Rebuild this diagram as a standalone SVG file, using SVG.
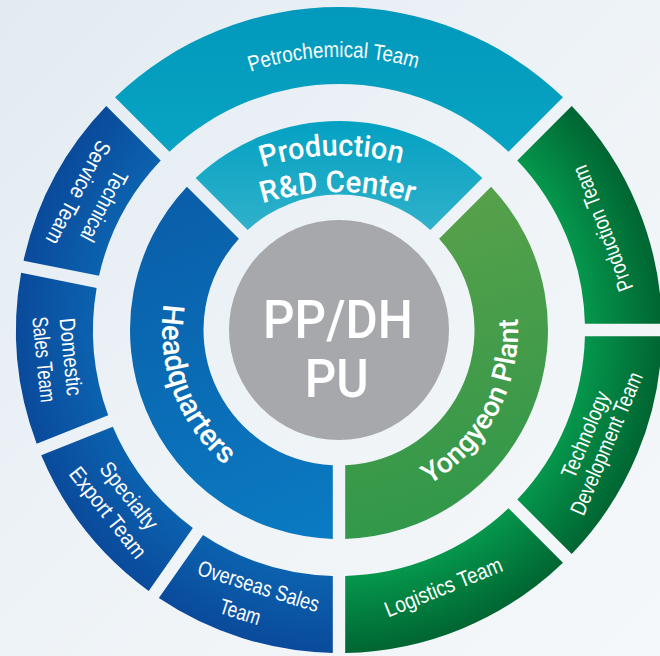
<svg xmlns="http://www.w3.org/2000/svg" width="660" height="656" viewBox="0 0 660 656">
<defs>
  <linearGradient id="bg" gradientUnits="userSpaceOnUse" x1="0" y1="0" x2="660" y2="656">
    <stop offset="0" stop-color="#e2ebf2"/>
    <stop offset="0.5" stop-color="#eef3f7"/>
    <stop offset="1" stop-color="#f5f8fa"/>
  </linearGradient>
  <linearGradient id="gPetro" gradientUnits="userSpaceOnUse" x1="0" y1="7" x2="0" y2="152">
    <stop offset="0" stop-color="#0299bc"/>
    <stop offset="1" stop-color="#08a3c2"/>
  </linearGradient>
  <linearGradient id="gRD" gradientUnits="userSpaceOnUse" x1="0" y1="121" x2="0" y2="230">
    <stop offset="0" stop-color="#03a1c2"/>
    <stop offset="1" stop-color="#30b1ca"/>
  </linearGradient>
  <linearGradient id="gHQ" gradientUnits="userSpaceOnUse" x1="180" y1="190" x2="330" y2="540">
    <stop offset="0" stop-color="#0a5ea9"/>
    <stop offset="1" stop-color="#0a7bc3"/>
  </linearGradient>
  <linearGradient id="gYY" gradientUnits="userSpaceOnUse" x1="420" y1="200" x2="520" y2="520">
    <stop offset="0" stop-color="#58a14a"/>
    <stop offset="1" stop-color="#2f974a"/>
  </linearGradient>
  <radialGradient id="gBlue" gradientUnits="userSpaceOnUse" cx="339" cy="330" r="323">
    <stop offset="0.76" stop-color="#0b62af"/>
    <stop offset="1" stop-color="#0a4a9b"/>
  </radialGradient>
  <radialGradient id="gGreen" gradientUnits="userSpaceOnUse" cx="339" cy="330" r="323">
    <stop offset="0.76" stop-color="#05974c"/>
    <stop offset="1" stop-color="#006532"/>
  </radialGradient>
  <path id="pPetro" d="M145.96,136.96 A273,273 0 0,1 532.04,136.96"/>
  <path id="pProd" d="M178.30,213.99 A250,250 0 0,1 499.70,213.99"/>
  <path id="pRD" d="M171.88,252.83 A260,260 0 0,1 506.12,252.83"/>
  <path id="pHQ" d="M213.84,204.84 A177,177 0 0,0 339,507"/>
  <path id="pYY" d="M339,509 A179,179 0 0,0 465.57,203.43"/>
</defs>
<style>
  text { font-family: "Liberation Sans", Arial, sans-serif; fill: #ffffff; }
  .lbl { font-size: 22px; }
  .inner { font-family: Roboto, "Liberation Sans", Arial, sans-serif; font-weight: 500; font-size: 30px; }
  .center { font-family: Roboto, "Liberation Sans", Arial, sans-serif; font-weight: 500; font-size: 54px; }
  .blue { fill: url(#gBlue); }
  .green { fill: url(#gGreen); }
</style>
<rect x="0" y="0" width="660" height="656" fill="url(#bg)"/>

<g id="petrochemical-team">
  <path fill="url(#gPetro)" d="M115.03,97.26 A323,323 0 0,1 562.97,97.26 L508.52,151.72 A246,246 0 0,0 169.48,151.72 Z"/>
  <text class="lbl" text-anchor="middle"><textPath href="#pPetro" startOffset="48.7%" textLength="169" lengthAdjust="spacingAndGlyphs">Petrochemical Team</textPath></text>
</g>

<g id="production-team">
  <path class="green" d="M571.74,106.03 A323,323 0 0,1 661.94,323.80 L584.92,323.80 A246,246 0 0,0 517.28,160.48 Z"/>
  <text class="lbl" text-anchor="middle" transform="translate(339 330) rotate(248.9)"><tspan x="0" y="290" textLength="133" lengthAdjust="spacingAndGlyphs">Production Team</tspan></text>
</g>

<g id="technology-development-team">
  <path class="green" d="M661.94,336.20 A323,323 0 0,1 571.74,553.97 L517.28,499.52 A246,246 0 0,0 584.92,336.20 Z"/>
  <text class="lbl" text-anchor="middle" transform="translate(339 330) rotate(293)"><tspan x="0" y="275" textLength="92" lengthAdjust="spacingAndGlyphs">Technology</tspan><tspan x="0" y="298" textLength="153" lengthAdjust="spacingAndGlyphs">Development Team</tspan></text>
</g>

<g id="logistics-team">
  <path class="green" d="M562.97,562.74 A323,323 0 0,1 345.20,652.94 L345.20,575.92 A246,246 0 0,0 508.52,508.28 Z"/>
  <text class="lbl" text-anchor="middle" transform="translate(339 330) rotate(337.9)"><tspan x="0" y="285" textLength="125" lengthAdjust="spacingAndGlyphs">Logistics Team</tspan></text>
</g>

<g id="overseas-sales-team">
  <path class="blue" d="M332.80,652.94 A323,323 0 0,1 158.85,598.10 L203.02,535.01 A246,246 0 0,0 332.80,575.92 Z"/>
  <text class="lbl" text-anchor="middle" transform="translate(339 330) rotate(17.4)"><tspan x="0" y="276" textLength="126" lengthAdjust="spacingAndGlyphs">Overseas Sales</tspan><tspan x="-10" y="306" textLength="42" lengthAdjust="spacingAndGlyphs">Team</tspan></text>
</g>

<g id="specialty-export-team">
  <path class="blue" d="M148.69,590.98 A323,323 0 0,1 41.24,455.17 L112.80,426.69 A246,246 0 0,0 192.86,527.90 Z"/>
  <text class="lbl" text-anchor="middle" transform="translate(339 330) rotate(51.7)"><tspan x="0" y="275" textLength="80" lengthAdjust="spacingAndGlyphs">Specialty</tspan><tspan x="0" y="302" textLength="110" lengthAdjust="spacingAndGlyphs">Export Team</tspan></text>
</g>

<g id="domestic-sales-team">
  <path class="blue" d="M36.65,443.65 A323,323 0 0,1 21.10,272.80 L96.63,287.89 A246,246 0 0,0 108.20,415.18 Z"/>
  <text class="lbl" text-anchor="middle" transform="translate(339 330) rotate(84.3)"><tspan x="0" y="277" textLength="78" lengthAdjust="spacingAndGlyphs">Domestic</tspan><tspan x="0" y="304" textLength="86" lengthAdjust="spacingAndGlyphs">Sales Team</tspan></text>
</g>

<g id="technical-service-team">
  <path class="blue" d="M23.53,260.64 A323,323 0 0,1 106.26,106.03 L160.72,160.48 A246,246 0 0,0 99.04,275.73 Z"/>
  <text class="lbl" text-anchor="middle" transform="translate(339 330) rotate(117.8)"><tspan x="0" y="273" textLength="77" lengthAdjust="spacingAndGlyphs">Technical</tspan><tspan x="0" y="302" textLength="114" lengthAdjust="spacingAndGlyphs">Service Team</tspan></text>
</g>

<g id="production-rd-center">
  <path fill="url(#gRD)" d="M195.66,177.90 A209,209 0 0,1 482.34,177.90 L430.33,229.91 A135.5,135.5 0 0,0 247.67,229.91 Z"/>
  <text class="inner" text-anchor="middle"><textPath href="#pProd" startOffset="47.9%" textLength="141" lengthAdjust="spacingAndGlyphs">Production</textPath></text>
  <text class="inner" text-anchor="middle"><textPath href="#pRD" startOffset="49.6%" textLength="152" lengthAdjust="spacingAndGlyphs">R&amp;D Center</textPath></text>
</g>

<g id="yongyeon-plant">
  <path fill="url(#gYY)" d="M491.10,186.66 A209,209 0 0,1 345.20,538.91 L345.20,465.36 A135.5,135.5 0 0,0 439.10,238.67 Z"/>
  <text class="inner" text-anchor="middle" style="font-size:28px"><textPath href="#pYY" startOffset="45.9%" textLength="198" lengthAdjust="spacingAndGlyphs">Yongyeon Plant</textPath></text>
</g>

<g id="headquarters">
  <path fill="url(#gHQ)" d="M332.80,538.91 A209,209 0 0,1 186.90,186.66 L238.90,238.67 A135.5,135.5 0 0,0 332.80,465.36 Z"/>
  <text class="inner" text-anchor="middle"><textPath href="#pHQ" startOffset="48.7%" textLength="180" lengthAdjust="spacingAndGlyphs">Headquarters</textPath></text>
</g>

<g id="pp-dh-pu">
  <circle cx="339" cy="330" r="110" fill="#a7a8ab"/>
  <text class="center" x="338" y="338" text-anchor="middle" textLength="150" lengthAdjust="spacingAndGlyphs">PP/DH</text>
  <text class="center" x="336.7" y="397" text-anchor="middle" textLength="64" lengthAdjust="spacingAndGlyphs">PU</text>
</g>

<g id="connectors"/>
</svg>
